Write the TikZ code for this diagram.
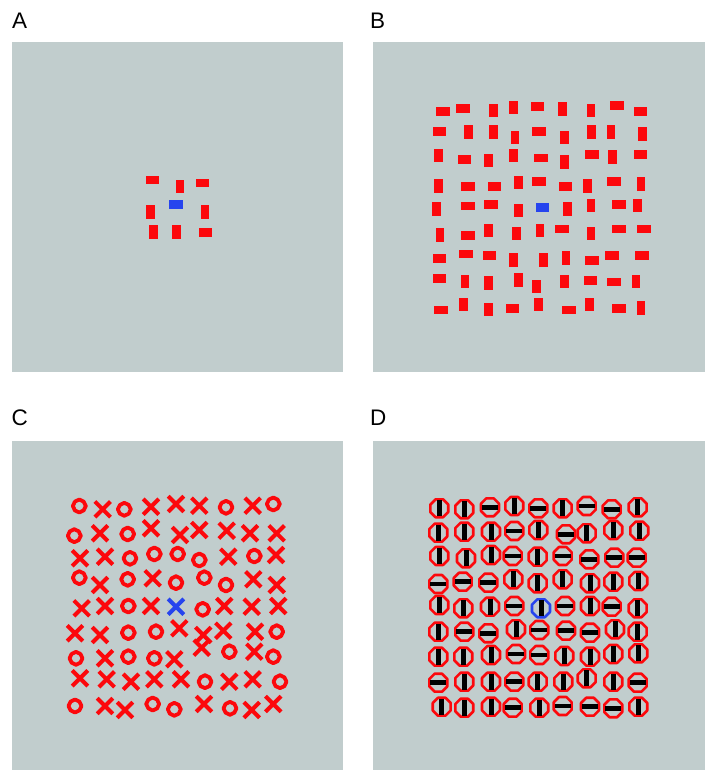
\documentclass[tikz,border=0pt]{standalone}
\usepackage{fontspec}
\setmainfont{Liberation Sans}
\definecolor{panelgray}{RGB}{193,205,205}
\definecolor{itemred}{RGB}{252,8,12}
\definecolor{itemblue}{RGB}{38,68,238}
\tikzset{
  panel/.style={fill=panelgray,draw=none},
  plabel/.style={anchor=base west,inner sep=0pt,font=\fontsize{22.5}{26}\selectfont},
  xmark/.style={draw=itemred,line width=4pt},
  omark/.style={draw=itemred,line width=3.8pt,line join=round},
  dring/.style={draw=itemred,line width=2.6pt,line join=round},
  dbar/.style={fill=black}
}
\newcommand\hrectat[3]{\fill[#3] (#1-6.8,#2-4.3) rectangle (#1+6.8,#2+4.3);}
\newcommand\vrectat[3]{\fill[#3] (#1-4.3,#2-6.8) rectangle (#1+4.3,#2+6.8);}
\newcommand\xat[3]{\draw[xmark,#3] (#1-7.8,#2-7.8) -- (#1+7.8,#2+7.8) (#1-7.8,#2+7.8) -- (#1+7.8,#2-7.8);}
\newcommand\oat[2]{\draw[omark] (#1,#2) +(0:6.5) -- +(45:6.2) -- +(90:6.5) -- +(135:6.2) -- +(180:6.5) -- +(225:6.2) -- +(270:6.5) -- +(315:6.2) -- cycle;}
\newcommand\ringat[3]{\draw[dring,#3] (#1,#2) +(22.5:9.7) -- +(67.5:9.7) -- +(112.5:9.7) -- +(157.5:9.7) -- +(202.5:9.7) -- +(247.5:9.7) -- +(292.5:9.7) -- +(337.5:9.7) -- cycle;}
\newcommand\vbarat[2]{\fill[dbar] (#1-2.5,#2-8) rectangle (#1+2.5,#2+8);}
\newcommand\hbarat[2]{\fill[dbar] (#1-8,#2-2.4) rectangle (#1+8,#2+2.4);}
\begin{document}
\begin{tikzpicture}[x=1pt,y=-1pt]
\useasboundingbox[fill=white] (0,0) rectangle (705,770);
% panels
\fill[panel] (12,42) rectangle (343,372);
\fill[panel] (373,42) rectangle (705,372);
\fill[panel] (12,441) rectangle (343,770);
\fill[panel] (373,441) rectangle (705,770);
% labels
\node[plabel] (labA) at (12,28.5) {A};
\node[plabel] (labB) at (370,28.5) {B};
\node[plabel] (labC) at (11.5,425) {C};
\node[plabel] (labD) at (370,425) {D};
% ---- Panel A
\foreach \x/\y in {152.5/180,202.5/183,205.5/232.5} {\hrectat{\x}{\y}{itemred}}
\foreach \x/\y in {180/186.5,150.5/212,205/212,153.5/232,176.5/232} {\vrectat{\x}{\y}{itemred}}
\hrectat{176}{204.5}{itemblue}
% ---- Panel B
\foreach \x/\y in {442.7/111.7,462.7/108.3,537.3/106.7,617/105.3,640.3/111.7,
439.3/131.7,539/131.7,
464.3/159.7,540.7/158,592/154.7,640.3/154.7,
467.7/186.3,494.3/186.3,539/181.3,565.3/186.3,613.7/181.3,
467.7/206,491/204.3,618.7/204.3,
467.7/235.7,562/229,618.7/229,643.7/229,
439.3/258.7,466/254,489.3/255.7,592/260.3,612/255.7,642/255.7,
439.3/278.7,590.3/280.3,613.7/282,
441/310,512.3/308.3,568.7/310,618.7/308.3} {\hrectat{\x}{\y}{itemred}}
\foreach \x/\y in {493.3/110.7,513.3/107.7,562.7/109.3,591/110.7,
468.3/132.3,493.3/132.3,515/137.7,564.3/137.7,591.3/132.3,611/132.3,642.7/134.3,
438.3/155.7,488.3/160.7,513.3/155.7,564.3/162.3,612.7/157.3,
438.3/185.7,518.3/182.3,587.7/185.7,641/184,
436.7/208.7,518.3/210.3,567.7/208.7,591/205.3,637.7/205.3,
440/235,488.3/230.3,516.7/233.3,540/230.3,591/233.3,
513.3/259.7,543.3/259.7,566/258,
465/281.3,488.3/283,518.3/279.7,536.7/286.3,564.3/281.3,636/281.3,
463.3/304.3,488.3/309.3,538.3/304.3,589.3/304.3,641/307.7} {\vrectat{\x}{\y}{itemred}}
\hrectat{542.3}{207.7}{itemblue}
% ---- Panel C
\foreach \x/\y in {79.3/506,124.3/509.3,226/507.3,273.3/504,
74.3/535.7,127.7/534,
130/558.3,154.3/554,177.7/554,199.3/560,254.3/556,
79.3/577.7,127.7/579.3,176/582.7,204.3/577.7,226/585,
128.3/606,202.7/609.3,
128.3/632.7,156/631.7,276.7/631.7,
76/658.3,128.3/656.7,154.3/658.3,229.3/651.7,273.3/656.7,
205/681.7,280/681.7,
75/706,152.7/704,174.3/709.3,230/708.3} {\oat{\x}{\y}}
\foreach \x/\y in {102.7/509.3,151/506.7,176/504,199.3/505.7,252.7/505.7,
100/533.3,151/528.3,180/535,199.3/530,226.7/530.7,250/533.3,276.7/533.3,
80/558.3,105/556.7,228.3/556.7,276/555,
100/585,152.7/578.3,253.3/579.3,276.7/585,
81.7/608.3,105/606,151/606,224.3/606,251.7/606.7,278.3/606,
75/633.3,100/635,179.3/628.3,203.3/635,223.3/630.7,255/631.7,
105/658.3,174.3/659.3,201.7/647.7,254.3/651.7,
80/678.3,106.7/679.3,131/681.7,154.3/679.3,181/679.3,229.3/681.7,252.7/679.3,
105/706,125/710,204/704,251.7/710,273.3/704} {\xat{\x}{\y}{}}
\xat{176}{606.7}{draw=itemblue}
% ---- Panel D
\foreach \x/\y in {439.3/508.3,464.3/509.3,514.3/506,562.7/508.3,637.7/507.3,
438.3/532.7,464.3/531.7,491/531.7,538.3/530,586.7/533.3,613.3/530,639.3/530.7,
439.3/556,466/558.3,491/555,537.7/556.7,
513.3/579.3,537.7/583.3,562.7/579.3,590/583.3,613.3/581.7,638.3/581,
439.3/605,463.3/608.3,490/606.7,590/606,637.7/608.3,
438.3/631.7,516/629.3,615/629.3,637.7/631.7,
438.3/656.7,463.3/656.7,491/655,564.3/656,590/656.7,613.3/654,638.3/653.3,
464.3/681.7,491/681.7,537.7/681.7,563.3/681.7,586.7/678.3,613.3/681.7,
441.7/706.7,464.3/707.7,491/706.7,539.3/707.7,638.3/706.7} {\ringat{\x}{\y}{}\vbarat{\x}{\y}}
\foreach \x/\y in {490/507.3,538.3/508.3,586.7/506,611.7/509.3,
514.3/531,566/534.3,
512.7/556,562.7/556,589.3/559.3,614.3/557.7,636.7/557.7,
438.3/584,462.7/581.7,488.3/582.7,
514.3/606,565/606,611.7/606.7,
464.3/631.7,488.3/633.3,539.3/630,566/630.7,590/632.7,
516/654,539.3/655,
438.3/682.7,514.3/681.7,637.7/682.7,
512.7/707.7,562.7/706,590/706.7,613.3/708.3} {\ringat{\x}{\y}{}\hbarat{\x}{\y}}
\ringat{541}{608.3}{draw=itemblue}\vbarat{541}{608.3}
\end{tikzpicture}
\end{document}
